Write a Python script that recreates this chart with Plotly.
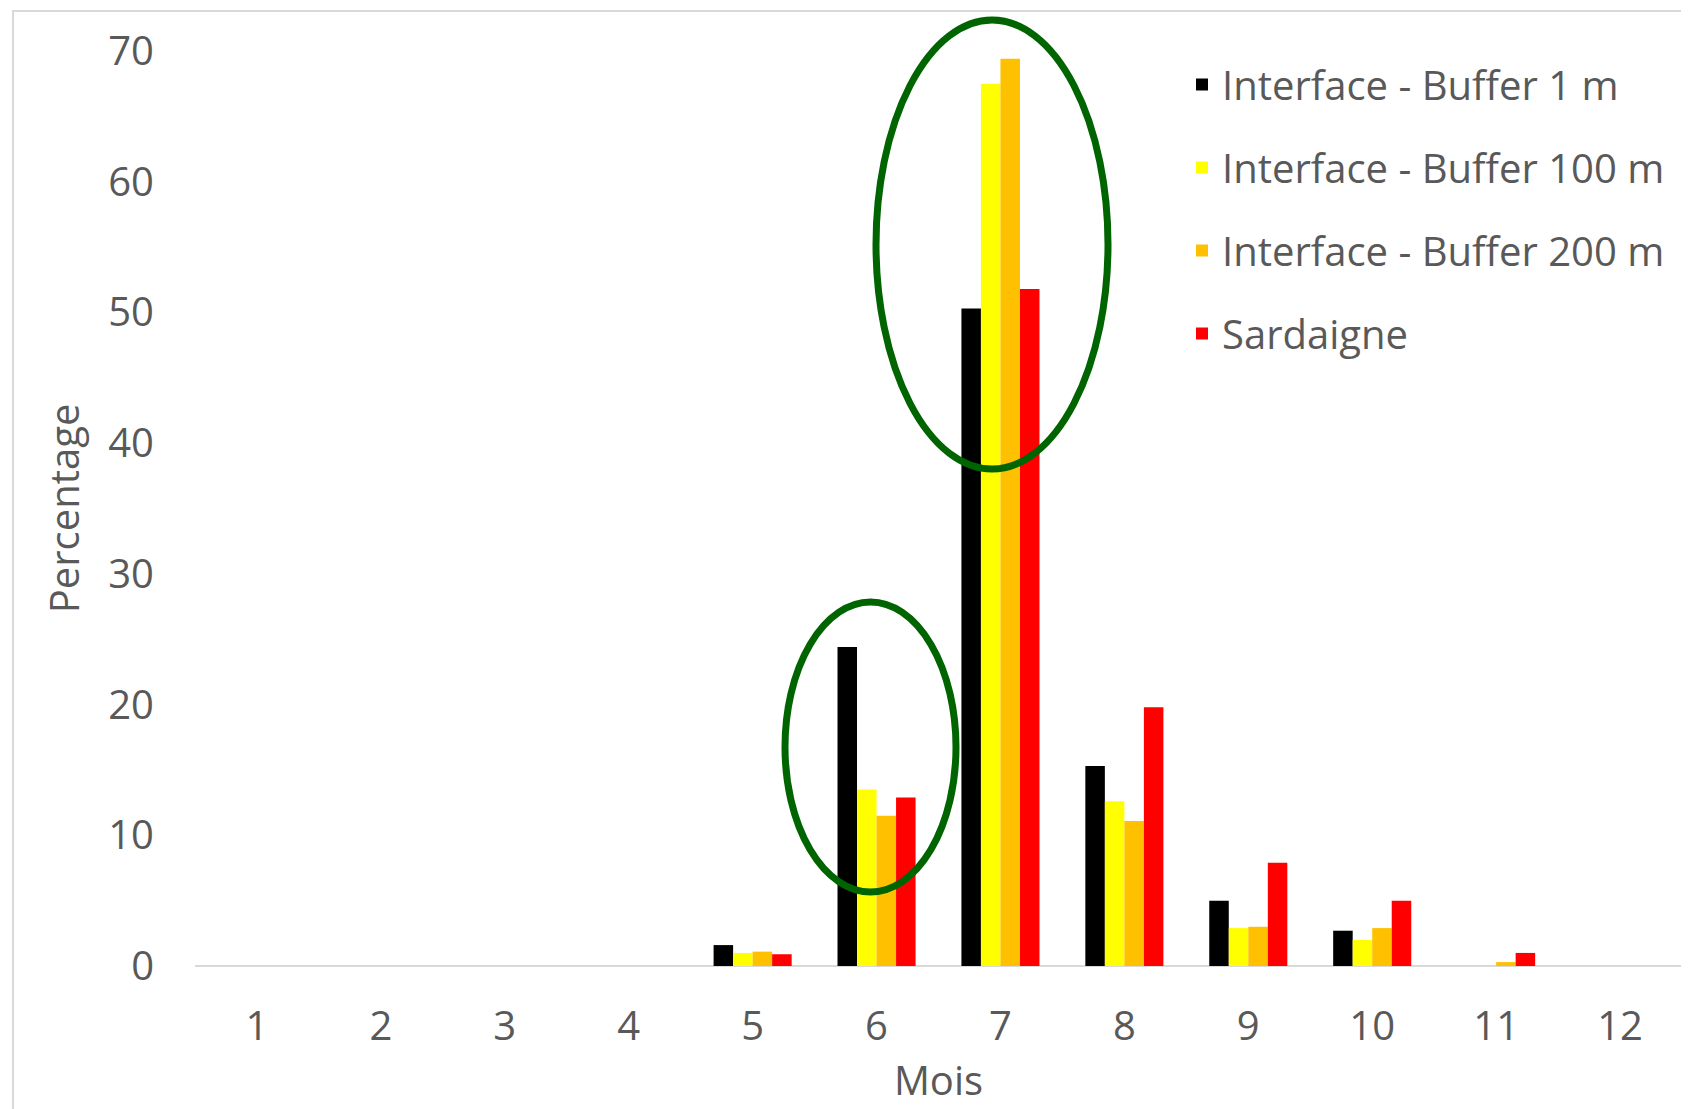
import plotly.graph_objects as go

months = [1, 2, 3, 4, 5, 6, 7, 8, 9, 10, 11, 12]
month_labels = ["1", "2", "3", "4", "5", "6", "7", "8", "9", "10", "11", "12"]

series_names = [
    "Interface - Buffer 1 m",
    "Interface - Buffer 100 m",
    "Interface - Buffer 200 m",
    "Sardaigne",
]
buffer_1m = [0, 0, 0, 0, 1.6, 24.4, 50.3, 15.3, 5.0, 2.7, 0, 0]
buffer_100m = [0, 0, 0, 0, 1.0, 13.5, 67.5, 12.6, 2.9, 2.0, 0, 0]
buffer_200m = [0, 0, 0, 0, 1.1, 11.5, 69.4, 11.1, 3.0, 2.9, 0.3, 0]
sardaigne = [0, 0, 0, 0, 0.9, 12.9, 51.8, 19.8, 7.9, 5.0, 1.0, 0]

colors = ["#000000", "#FFFF00", "#FFC000", "#FF0000"]
values = [buffer_1m, buffer_100m, buffer_200m, sardaigne]

FONT = "Open Sans"
GREY = "#595959"

fig = go.Figure()
for name, vals, col in zip(series_names, values, colors):
    fig.add_trace(go.Bar(x=months, y=vals, name=name, marker_color=col,
                         marker_line_width=0, legendgroup=name))

# page offset (browser body margin)
OFF = 8
W, H = 1689, 1109
L, R, T, B = 187, 15, 43, 151
pw, ph = W - L - R, H - T - B


def px_x(p):
    """page pixel x -> paper x"""
    return (p - OFF - L) / pw


def px_y(p):
    """page pixel y -> paper y"""
    return (H - B - (p - OFF)) / ph


shapes = [
    # outer chart frame
    dict(type="rect", xref="paper", yref="paper",
         x0=px_x(13), x1=px_x(1693), y0=px_y(1140), y1=px_y(11),
         line=dict(color="#d9d9d9", width=2), fillcolor="rgba(0,0,0,0)", layer="below"),
    # highlight ellipses
    dict(type="circle", xref="paper", yref="paper",
         x0=px_x(785), x1=px_x(956), y0=px_y(892), y1=px_y(602),
         line=dict(color="#006400", width=7)),
    dict(type="circle", xref="paper", yref="paper",
         x0=px_x(876), x1=px_x(1108), y0=px_y(469), y1=px_y(20),
         line=dict(color="#006400", width=7)),
]

fig.update_layout(
    width=W, height=H,
    margin=dict(l=L, r=R, t=T, b=B, autoexpand=False),
    paper_bgcolor="white", plot_bgcolor="white",
    barmode="group", bargap=0.37, bargroupgap=0,
    font=dict(family=FONT, color=GREY, size=40),
    xaxis=dict(
        range=[0.5, 12.5], tickvals=months, ticktext=month_labels,
        showgrid=False, zeroline=False, showline=False, ticks="",
        ticklabelstandoff=33,
        title=dict(text="Mois", font=dict(size=40, color=GREY), standoff=15),
        tickfont=dict(size=40, color=GREY),
    ),
    yaxis=dict(
        range=[0, 70], dtick=10, showgrid=False,
        zeroline=True, zerolinecolor="#d9d9d9", zerolinewidth=2,
        showline=False, ticks="", ticklabelstandoff=40,
        title=dict(text="Percentage", font=dict(size=40, color=GREY), standoff=16),
        tickfont=dict(size=40, color=GREY),
    ),
    legend=dict(
        x=px_x(1182), y=px_y(52), xanchor="left", yanchor="top",
        font=dict(size=40, color=GREY), tracegroupgap=28,
        bgcolor="rgba(0,0,0,0)",
    ),
    shapes=shapes,
)

fig.write_html("out.html")
